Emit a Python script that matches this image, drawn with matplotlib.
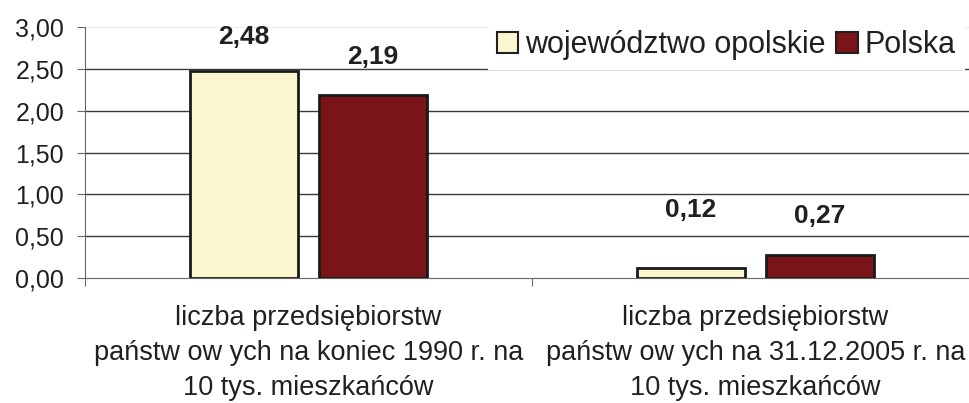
import matplotlib
matplotlib.use("Agg")
import matplotlib.pyplot as plt
import numpy as np
from matplotlib.patches import Patch

categories = [
    "liczba przedsiębiorstw\npaństw ow ych na koniec 1990 r. na\n10 tys. mieszkańców",
    "liczba przedsiębiorstw\npaństw ow ych na 31.12.2005 r. na\n10 tys. mieszkańców",
]
series_names = ["województwo opolskie", "Polska"]
opolskie = [2.48, 0.12]
polska = [2.19, 0.27]
yticks = [0.0, 0.5, 1.0, 1.5, 2.0, 2.5, 3.0]

plt.rcParams['font.family'] = ['Liberation Sans', 'DejaVu Sans']
TXT = "#231f20"

fig = plt.figure(figsize=(9.7, 4.03), dpi=100)
ax = fig.add_axes([85/970, 1-278/403, (979-85)/970, (278-27)/403])

x = np.arange(len(categories))
w = 0.242
gap = 0.047
c_y = "#FAF7CF"
c_r = "#7B1418"
b1 = ax.bar(x - (w+gap)/2, opolskie, w, color=c_y, edgecolor="#1a1a1a", linewidth=2, zorder=3)
b2 = ax.bar(x + (w+gap)/2, polska, w, color=c_r, edgecolor="#1a1a1a", linewidth=2, zorder=3)

# label offsets above bar tops (points), as placed in the source
offsets = [[24, 42], [27, 28.5]]
for si, (bars, vals) in enumerate([(b1, opolskie), (b2, polska)]):
    for ci, (b, v) in enumerate(zip(bars, vals)):
        ax.annotate(f"{v:.2f}".replace(".", ","), (b.get_x()+b.get_width()/2, v),
                    xytext=(0, offsets[si][ci]), textcoords="offset points",
                    ha="center", va="center", fontsize=19, fontweight="bold", color=TXT)

ax.set_xlim(-0.5, 1.5)
ax.set_ylim(0, 3)
ax.set_yticks(yticks)
ax.set_yticklabels([f"{t:.2f}".replace(".", ",") for t in yticks], fontsize=18, color=TXT)
for t in yticks[1:-1]:
    ax.axhline(t, color="#3a3a3a", linewidth=1, zorder=1)
ax.axhline(3.0, color="#eeeeee", linewidth=1, zorder=1)

ax.set_xticks([-0.5, 0.5, 1.5])
ax.set_xticklabels([])
ax.tick_params(axis="x", direction="out", length=5.5, color="#666666")
ax.tick_params(axis="y", direction="out", length=6, color="#666666", pad=9)
for i, c in enumerate(categories):
    ax.annotate(c, (i, 0), xytext=(0, -19.5), textcoords="offset points",
                ha="center", va="top", fontsize=19.5, color=TXT, linespacing=1.45)

ax.spines["top"].set_visible(False)
ax.spines["right"].set_visible(False)
ax.spines["left"].set_color("#666666")
ax.spines["bottom"].set_color("#666666")

handles = [Patch(facecolor=c_y, edgecolor=TXT, linewidth=1.5),
           Patch(facecolor=c_r, edgecolor=TXT, linewidth=1.5)]
leg = fig.legend(handles, series_names, loc="center right", bbox_to_anchor=(964/970, 1-45/403),
                 ncol=2, fontsize=22, frameon=True, fancybox=False, framealpha=1,
                 handlelength=0.7, handleheight=0.7, handletextpad=0.22, columnspacing=0.35,
                 borderpad=0.28, borderaxespad=0)
leg.get_frame().set_edgecolor("white")
leg.get_frame().set_facecolor("white")
leg.set_zorder(10)
for t in leg.get_texts():
    t.set_color(TXT)

fig.savefig("out.png", dpi=100)
